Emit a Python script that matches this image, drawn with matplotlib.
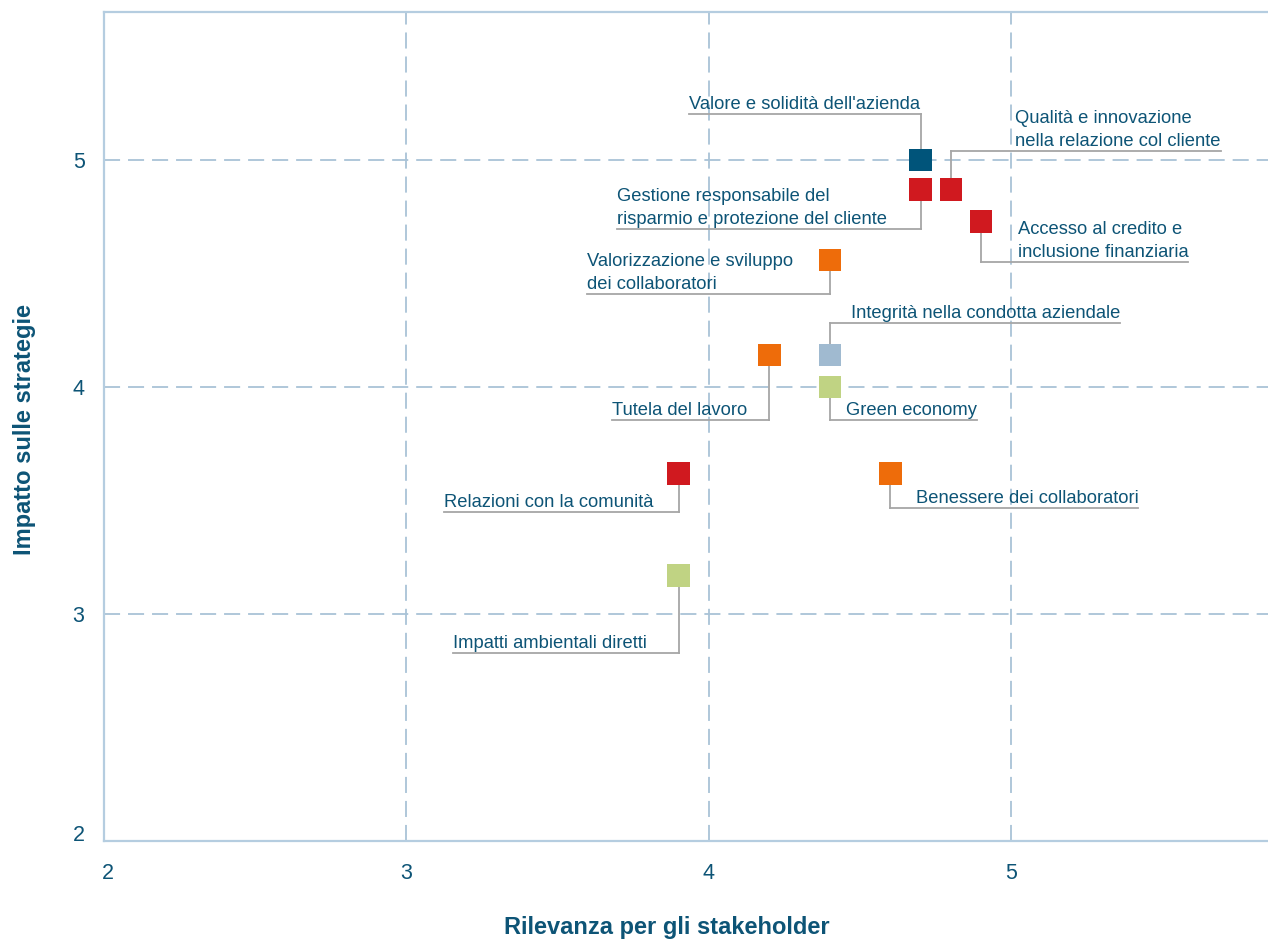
import matplotlib.pyplot as plt
from matplotlib.transforms import ScaledTranslation

plt.rcParams['font.family'] = ['Liberation Sans', 'DejaVu Sans']

# data
temi = [
    "Valore e solidità dell'azienda",
    "Qualità e innovazione\nnella relazione col cliente",
    "Gestione responsabile del\nrisparmio e protezione del cliente",
    "Accesso al credito e\ninclusione finanziaria",
    "Valorizzazione e sviluppo\ndei collaboratori",
    "Integrità nella condotta aziendale",
    "Tutela del lavoro",
    "Green economy",
    "Relazioni con la comunità",
    "Benessere dei collaboratori",
    "Impatti ambientali diretti",
]
rilevanza = [4.70, 4.80, 4.70, 4.90, 4.40, 4.40, 4.20, 4.40, 3.90, 4.60, 3.90]
impatto = [5.00, 4.87, 4.87, 4.73, 4.56, 4.14, 4.14, 4.00, 3.62, 3.62, 3.17]
colori = ['#00547a', '#d0191f', '#d0191f', '#d0191f', '#ee6c0a', '#a0bad0',
          '#ee6c0a', '#c0d383', '#d0191f', '#ee6c0a', '#c0d383']

# label placement: text left x and leader line y (data coords)
label_x = [3.934, 5.013, 3.696, 5.020, 3.597, 4.469, 3.680, 4.452, 3.125, 4.683, 3.155]
label_y = [5.203, 5.040, 4.696, 4.551, 4.410, 4.282, 3.855, 3.855, 3.449, 3.467, 2.828]

testo = '#0d5476'
spine_c = '#b5cde0'
grid_c = '#a9c3d7'
leader = '#a6a6a6'

fig = plt.figure(figsize=(12.68, 9.42), dpi=100)
ax = fig.add_axes([104 / 1268, 101 / 942, 1164 / 1268, 829 / 942])

ax.set_xlim(2.0066, 5.848)
ax.set_ylim(2.0, 5.652)
ax.set_xticks([2, 3, 4, 5])
ax.set_yticks([2, 3, 4, 5])

ax.grid(True, color=grid_c, linestyle=(0, (8.9, 4.4)), linewidth=1.3)
ax.set_axisbelow(True)
for s in ['left', 'bottom', 'top']:
    ax.spines[s].set_color(spine_c)
    ax.spines[s].set_linewidth(1.6)
ax.spines['right'].set_visible(False)
ax.tick_params(length=0, labelsize=15.5, labelcolor=testo)
ax.tick_params(axis='x', pad=16)
ax.tick_params(axis='y', pad=14)

# nudge the corner "2" labels like in the original
fig.canvas.draw()
ax.get_xticklabels()[0].set_transform(ax.get_xticklabels()[0].get_transform()
                                      + ScaledTranslation(4 / 100, 0, fig.dpi_scale_trans))
ax.get_yticklabels()[0].set_transform(ax.get_yticklabels()[0].get_transform()
                                      + ScaledTranslation(0, 8 / 100, fig.dpi_scale_trans))

ax.set_xlabel('Rilevanza per gli stakeholder', fontsize=17, fontweight='bold', color=testo)
ax.set_ylabel('Impatto sulle strategie', fontsize=17, fontweight='bold', color=testo)
ax.xaxis.set_label_coords(0.4837, -0.0905)
ax.yaxis.set_label_coords(-0.058, 0.496)

ax.scatter(rilevanza, impatto, marker='s', s=16.2 ** 2, c=colori, linewidths=0, zorder=4)

texts = []
for t, lx, ly in zip(temi, label_x, label_y):
    txt = ax.annotate(t, xy=(lx, ly), xytext=(0, 0.5), textcoords='offset points',
                      ha='left', va='bottom', fontsize=13.2, color=testo, linespacing=1.5,
                      zorder=5)
    texts.append(txt)

fig.canvas.draw()
renderer = fig.canvas.get_renderer()
inv = ax.transData.inverted()
for txt, mx, my, ly in zip(texts, rilevanza, impatto, label_y):
    bb = txt.get_window_extent(renderer)
    x0 = inv.transform((bb.x0, bb.y0))[0]
    x1 = inv.transform((bb.x1, bb.y0))[0]
    ax.plot([mx, mx], [my, ly], color=leader, linewidth=1.3, zorder=3)
    ax.plot([min(x0, mx), max(x1, mx)], [ly, ly], color=leader, linewidth=1.3, zorder=3)

fig.savefig('out.png', dpi=100)
